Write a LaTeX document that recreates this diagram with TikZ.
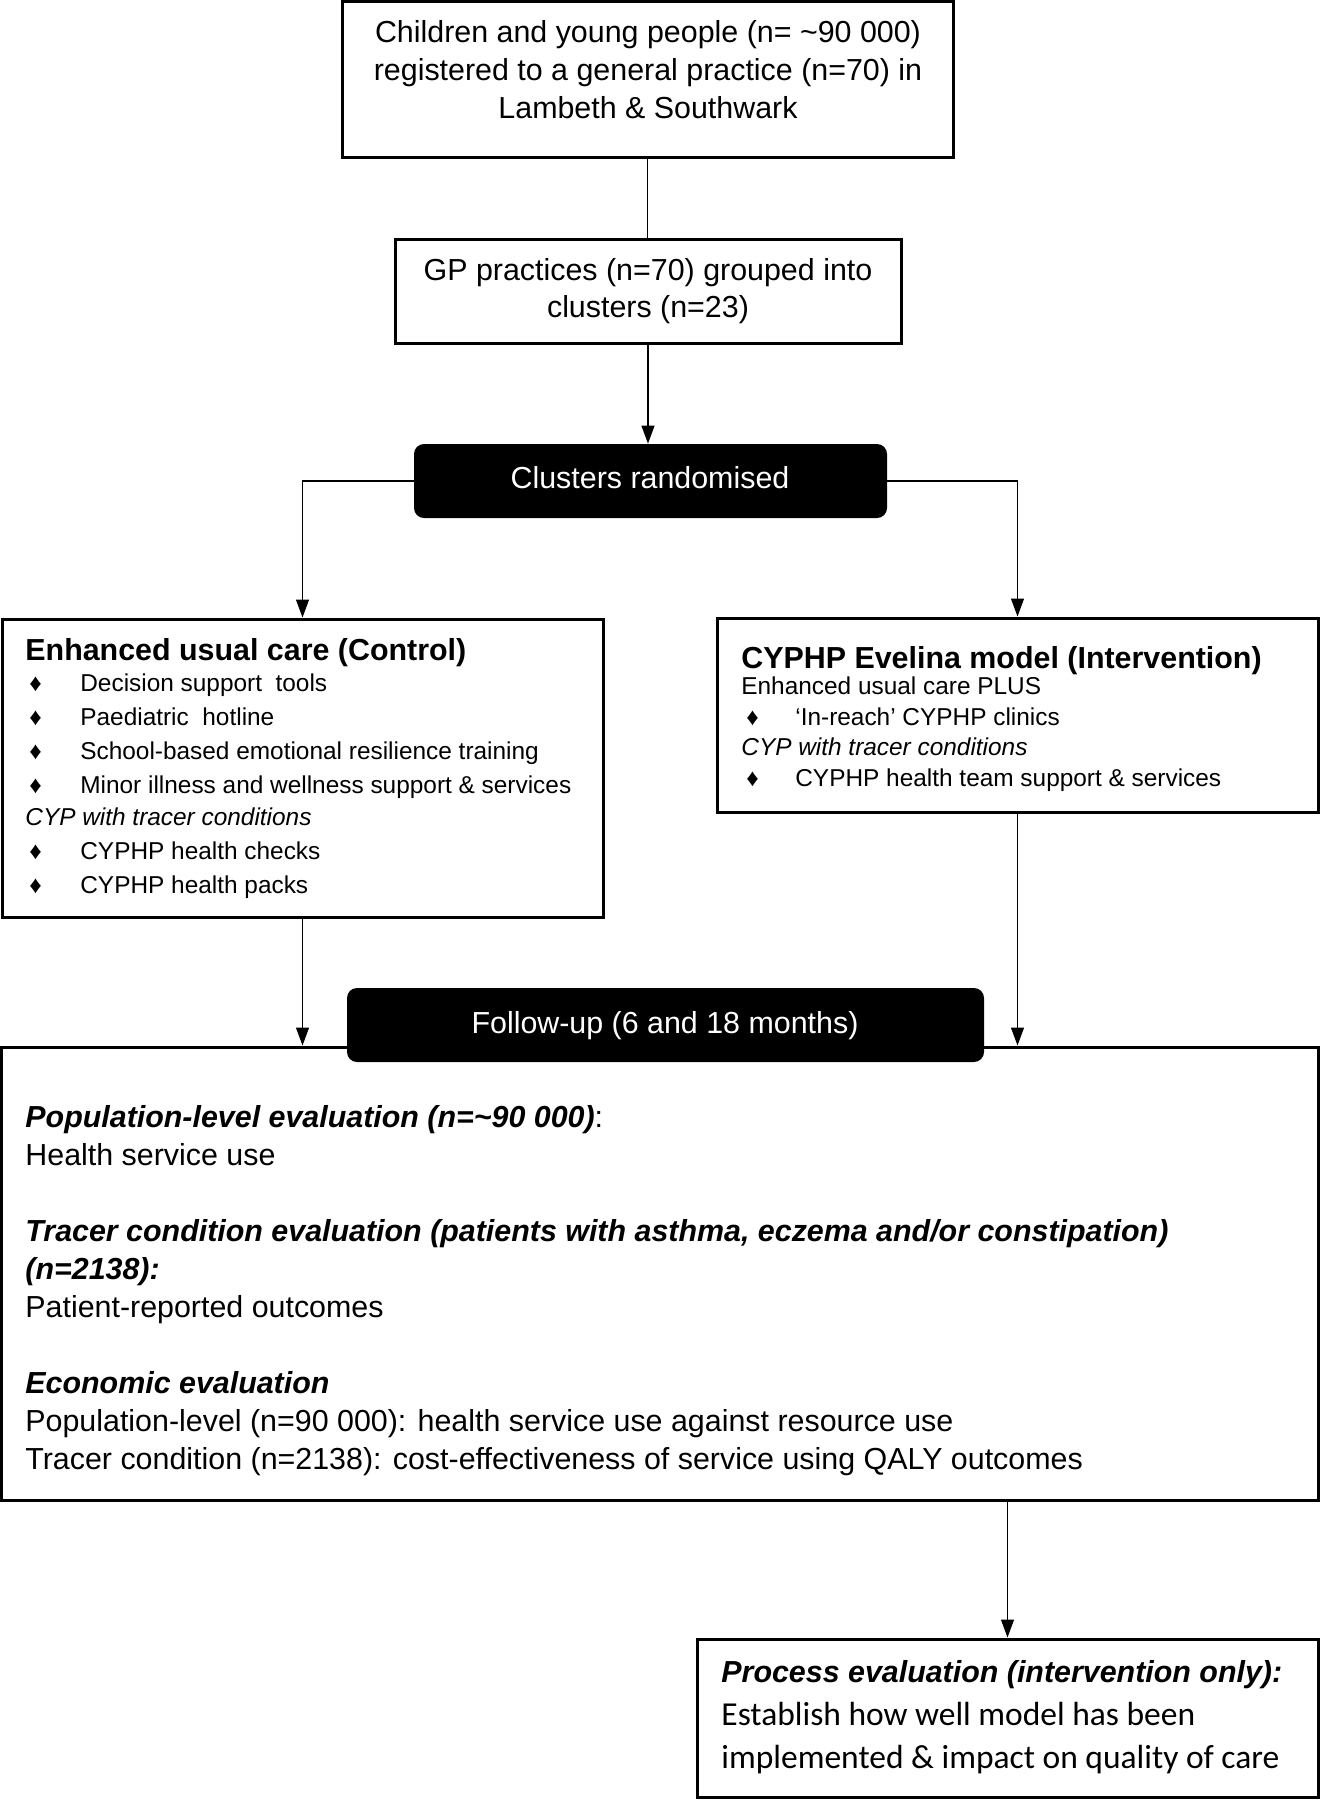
\documentclass[tikz,border=0pt]{standalone}
\usepackage{fontspec}
\setmainfont{Liberation Sans}
\newfontfamily\calib{Carlito}
\usetikzlibrary{arrows.meta,fit}
\begin{document}
\begin{tikzpicture}[x=0.5pt,y=-0.5pt,
  box/.style={draw=black,line width=1.5pt,fill=white,inner sep=0pt},
  blk/.style={fill=black,rounded corners=5pt,inner sep=0pt},
  wtxt/.style={text=white,inner sep=0pt,anchor=base,font=\fontsize{15.2}{19}\selectfont},
  conn/.style={line width=0.6pt},
  arr/.style={conn,-{Triangle[length=9pt,width=6.5pt]}},
  big/.style={inner sep=0pt,font=\fontsize{15.2}{19}\selectfont},
  small/.style={inner sep=0pt,align=left,font=\fontsize{12.2}{17}\selectfont}]
\useasboundingbox[fill=white] (0,0) rectangle (1320,1800);

% boxes
\node[box, fit={(342,1)(953,157)}] (top) {};
\node[big, align=center, anchor=base] (toptxt) at (648,118)
  {Children and young people (n= \textasciitilde 90 000)\\registered to a general practice (n=70) in\\Lambeth \& Southwark};

\node[box, fit={(395,239)(901,343)}] (gp) {};
\node[big, align=center, anchor=base, font=\fontsize{15.2}{18.5}\selectfont] (gptxt) at (648,317)
  {GP practices (n=70) grouped into\\clusters (n=23)};

\node[blk, fit={(414,444)(887,518)}] (rand) {};
\node[wtxt] (randtxt) at (650,488) {Clusters randomised};

\node[box, fit={(2,619)(603,917)}] (ctrl) {};
\node[big, anchor=base west, font=\bfseries\fontsize{15.2}{19}\selectfont] (ctrlt) at (25,660) {Enhanced usual care (Control)};
\node[small, anchor=base west] (ctrll) at (25,893)
  {\makebox[27.5pt][l]{\hspace{2pt}♦}Decision support\ \ tools\\
   \makebox[27.5pt][l]{\hspace{2pt}♦}Paediatric\ \ hotline\\
   \makebox[27.5pt][l]{\hspace{2pt}♦}School-based emotional resilience training\\
   \makebox[27.5pt][l]{\hspace{2pt}♦}Minor illness and wellness support \& services\\[-1pt]
   \textit{CYP with tracer conditions}\\
   \makebox[27.5pt][l]{\hspace{2pt}♦}CYPHP health checks\\
   \makebox[27.5pt][l]{\hspace{2pt}♦}CYPHP health packs};

\node[box, fit={(717,618)(1318,812)}] (intv) {};
\node[big, anchor=base west, font=\bfseries\fontsize{15.2}{19}\selectfont] (intvt) at (741,668) {CYPHP Evelina model (Intervention)};
\node[small, anchor=base west, font=\fontsize{12.2}{15.2}\selectfont] (intvl) at (741,786)
  {Enhanced usual care PLUS\\
   \makebox[27pt][l]{\hspace{2.5pt}♦}‘In-reach’ CYPHP clinics\\
   \textit{CYP with tracer conditions}\\
   \makebox[27pt][l]{\hspace{2.5pt}♦}CYPHP health team support \& services};

\node[box, fit={(1,1047)(1318,1500)}] (main) {};
\node[big, align=left, anchor=base west] (maintxt) at (25,1469)
  {\textbf{\textit{Population-level evaluation (n=\textasciitilde 90 000)}}:\\
   Health service use\\[19pt]
   \textbf{\textit{Tracer condition evaluation (patients with asthma, eczema and/or constipation)}}\\
   \textbf{\textit{(n=2138):}}\\
   Patient-reported outcomes\\[19pt]
   \textbf{\textit{Economic evaluation}}\\
   Population-level (n=90 000): health service use against resource use\\
   Tracer condition (n=2138): cost-effectiveness of service using QALY outcomes};

\node[blk, fit={(347,988)(984,1062)}] (fup) {};
\node[wtxt] (fuptxt) at (665,1033) {Follow-up (6 and 18 months)};

\node[box, fit={(697,1639)(1318,1797)}] (proc) {};
\node[inner sep=0pt, align=left, anchor=base west, font=\calib\fontsize{16.75}{21.5}\selectfont] (proctxt) at (721,1768)
  {{\rmfamily\bfseries\itshape\fontsize{15.2}{21.5}\selectfont Process evaluation (intervention only):}\\
   Establish how well model has been\\
   implemented \& impact on quality of care};

% connectors
\draw[conn] (top.south) -- (top.south |- gp.north);
\draw[arr] (gp.south) -- (gp.south |- rand.north);
\draw[arr] (rand.west) -| (ctrl.north);
\draw[arr] (rand.east) -| (intv.north);
\draw[arr] (ctrl.south) -- (ctrl.south |- main.north);
\draw[arr] (intv.south) -- (intv.south |- main.north);
\draw[arr] (proc.north |- main.south) -- (proc.north);
\end{tikzpicture}
\end{document}
